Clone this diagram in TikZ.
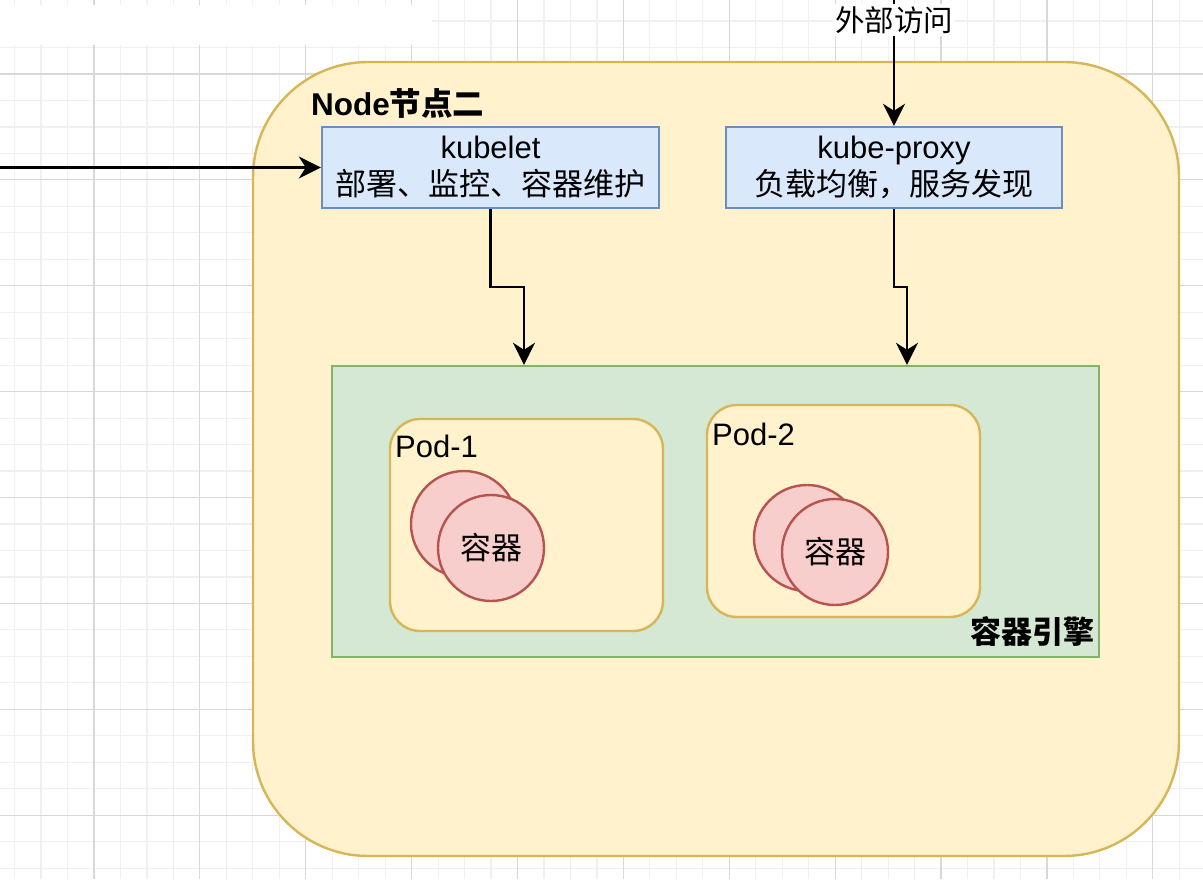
\documentclass[tikz,border=0pt]{standalone}
\usepackage{fontspec}
\setmainfont{Liberation Sans}
\newfontfamily\cjk{Noto Sans CJK SC}
\usetikzlibrary{arrows.meta}
\definecolor{yfill}{HTML}{FFF2CC}
\definecolor{ydraw}{HTML}{D6B656}
\definecolor{gfill}{HTML}{D5E8D4}
\definecolor{gdraw}{HTML}{82B366}
\definecolor{bfill}{HTML}{DAE8FC}
\definecolor{bdraw}{HTML}{6C8EBF}
\definecolor{rfill}{HTML}{F8CECC}
\definecolor{rdraw}{HTML}{B85450}
\definecolor{gridminor}{HTML}{F0F0F0}
\definecolor{gridmajor}{HTML}{D8D8D8}
\tikzset{
  txt/.style={font=\fontsize{31}{38}\selectfont, inner sep=0pt},
  outerbox/.style={draw=ydraw, fill=yfill, line width=2.4pt, rounded corners=115pt, minimum width=926pt, minimum height=794pt, inner sep=0pt},
  bluebox/.style={draw=bdraw, fill=bfill, line width=2.4pt, minimum height=81pt, inner sep=0pt, align=center, font=\fontsize{31}{37}\selectfont},
  greenbox/.style={draw=gdraw, fill=gfill, line width=2.4pt, minimum width=767pt, minimum height=291pt, inner sep=0pt},
  podbox/.style={draw=ydraw, fill=yfill, line width=2.4pt, rounded corners=30pt, minimum width=273pt, minimum height=212pt, inner sep=0pt},
  cont/.style={circle, draw=rdraw, fill=rfill, line width=2.4pt, minimum size=106pt, inner sep=0pt, font=\fontsize{31}{37}\selectfont\cjk},
  arr/.style={line width=2.8pt, -{Stealth[length=22pt,width=22pt,inset=7pt]}},
}
\begin{document}
\begin{tikzpicture}[x=1pt,y=-1pt]
\path[use as bounding box, fill=white] (0,0) rectangle (1203,879);
% grid
\foreach \i in {-4,...,44} {
  \draw[gridminor, line width=1.2pt] ({94+26.47*\i},0) -- ({94+26.47*\i},879);
  \draw[gridminor, line width=1.2pt] (0,{74+26.47*\i}) -- (1203,{74+26.47*\i});
}
\foreach \i in {-1,...,11} {
  \draw[gridmajor, line width=1.2pt] ({94+105.88*\i},0) -- ({94+105.88*\i},879);
  \draw[gridmajor, line width=1.2pt] (0,{74+105.88*\i}) -- (1203,{74+105.88*\i});
}
\fill[white] (0,5) rectangle (432,45);

% outer node
\node[outerbox] (outer) at (716,459) {};
\node[txt, anchor=west, font=\fontsize{31.5}{38}\selectfont\bfseries] (title) at (311,103) {Node{\cjk 节点二}};

% blue boxes
\node[bluebox, minimum width=337pt] (kubelet) at (490.5,167.5) {kubelet\\{\cjk 部署、监控、容器维护}};
\node[bluebox, minimum width=336pt] (kp) at (894,167.5) {kube-proxy\\{\cjk 负载均衡，服务发现}};

% green engine
\node[greenbox] (engine) at (715.5,511.5) {};
\node[txt, anchor=east, font=\fontsize{31}{38}\selectfont\cjk\bfseries] (englabel) at (1095,632) {容器引擎};

% pods
\node[podbox] (pod1) at (526.5,525) {};
\node[txt, anchor=west] (pod1l) at (395,446) {Pod-1};
\node[podbox] (pod2) at (843.5,511) {};
\node[txt, anchor=west] (pod2l) at (712,434) {Pod-2};

% containers
\node[cont] (c1b) at (464,524) {};
\node[cont] (c1f) at (491,548) {容器};
\node[cont] (c2b) at (807,538) {};
\node[cont] (c2f) at (835,552) {容器};

% connectors
\coordinate (left) at (0,167.5);
\draw[arr] (left) -- (kubelet.west);
\coordinate (top) at (894,0);
\draw[arr] (top) -- (kp.north);
\node[txt, fill=white, inner sep=2pt, font=\fontsize{29.5}{34}\selectfont\cjk] (ext) at (894,20) {外部访问};

\coordinate (b1) at (524,287);
\draw[arr] (kubelet.south) |- (b1) -- (b1 |- engine.north);
\coordinate (b2) at (907,287);
\draw[arr] (kp.south) |- (b2) -- (b2 |- engine.north);
\end{tikzpicture}
\end{document}
